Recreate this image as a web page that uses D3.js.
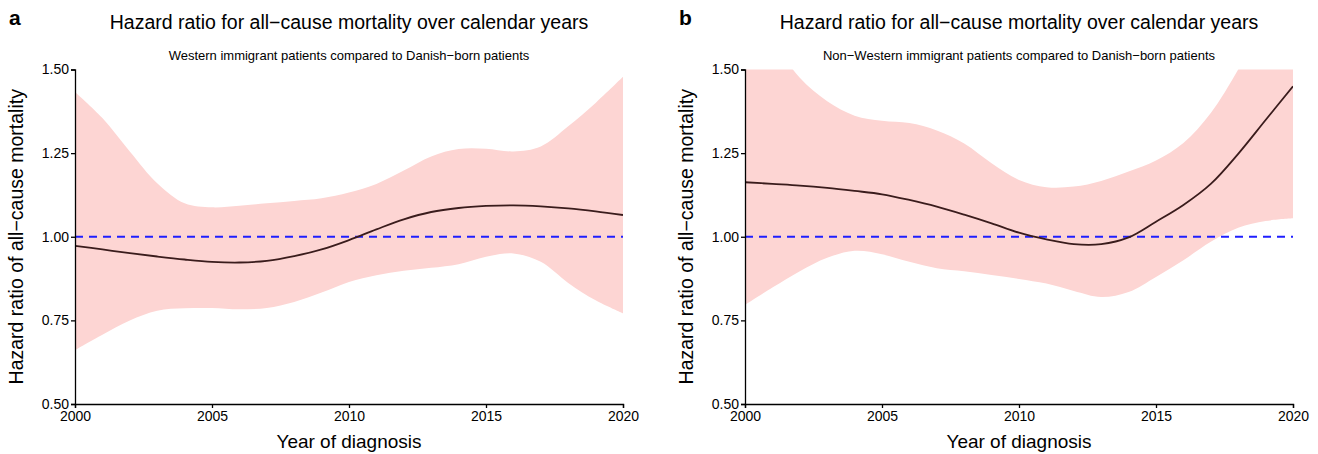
<!DOCTYPE html>
<html>
<head>
<meta charset="utf-8">
<script src="https://cdn.jsdelivr.net/npm/d3@7"></script>
<style>
  body { margin: 0; background: #fff; }
  svg { font-family: "Liberation Sans", Arial, sans-serif; }
  .axis path, .axis line { stroke: #000; stroke-width: 1.3; }
  .axis text { font-size: 14px; fill: #000; }
</style>
</head>
<body>
<div class="canvas"></div>
<script>
// data, one value per calendar year
const years = d3.range(2000, 2021);

// panel a: western immigrants
const hrWestern    = [0.973, 0.962, 0.951, 0.941, 0.932, 0.925, 0.923, 0.928, 0.942, 0.962, 0.99,
                      1.022, 1.052, 1.074, 1.086, 1.092, 1.094, 1.091, 1.085, 1.076, 1.065];
const lowerWestern = [0.661, 0.707, 0.75, 0.779, 0.786, 0.787, 0.783, 0.787, 0.805, 0.833, 0.865,
                      0.885, 0.898, 0.907, 0.918, 0.94, 0.95, 0.925, 0.862, 0.81, 0.771];
const upperWestern = [1.433, 1.355, 1.255, 1.16, 1.10, 1.088, 1.093, 1.10, 1.107, 1.115, 1.132,
                      1.158, 1.198, 1.24, 1.262, 1.263, 1.255, 1.27, 1.33, 1.40, 1.478];

// panel b: non-western immigrants
const hrNonWestern    = [1.163, 1.158, 1.153, 1.146, 1.137, 1.127, 1.11, 1.09, 1.066, 1.04, 1.012,
                         0.992, 0.978, 0.978, 0.998, 1.045, 1.095, 1.158, 1.248, 1.349, 1.45];
const lowerNonWestern = [0.796, 0.848, 0.897, 0.937, 0.958, 0.948, 0.925, 0.906, 0.897, 0.886, 0.874,
                         0.86, 0.838, 0.82, 0.835, 0.88, 0.93, 0.985, 1.027, 1.047, 1.055];
const upperNonWestern = [1.72, 1.59, 1.475, 1.405, 1.362, 1.347, 1.34, 1.318, 1.279, 1.22, 1.17,
                         1.148, 1.15, 1.167, 1.195, 1.228, 1.28, 1.37, 1.5, 1.65, 1.8];

const xTicks = [2000, 2005, 2010, 2015, 2020];
const yTicks = [0.5, 0.75, 1.0, 1.25, 1.5];

const panels = [
  { letter: 'a', sub: 'Western immigrant patients compared to Danish\u2212born patients',
    hr: hrWestern, lo: lowerWestern, hi: upperWestern, left: 75 },
  { letter: 'b', sub: 'Non\u2212Western immigrant patients compared to Danish\u2212born patients',
    hr: hrNonWestern, lo: lowerNonWestern, hi: upperNonWestern, left: 745 }
];

const dims = { width: 548, top: 69.5, bottom: 404 };

const svg = d3.select('.canvas')
  .append('svg')
  .attr('width', 1318)
  .attr('height', 454);

panels.forEach((p, i) => {
  const x = d3.scaleLinear().domain([2000, 2020]).range([p.left, p.left + dims.width]);
  const y = d3.scaleLinear().domain([0.5, 1.5]).range([dims.bottom, dims.top]);
  const g = svg.append('g');

  // clip so the band stays inside the plot
  const clipId = 'clip' + i;
  svg.append('clipPath').attr('id', clipId)
    .append('rect')
    .attr('x', x(2000)).attr('y', y(1.5))
    .attr('width', dims.width).attr('height', y(0.5) - y(1.5));

  const rows = years.map((yr, j) => ({ yr, hr: p.hr[j], lo: p.lo[j], hi: p.hi[j] }));

  const area = d3.area()
    .x(d => x(d.yr))
    .y0(d => y(d.lo))
    .y1(d => y(d.hi))
    .curve(d3.curveCatmullRom.alpha(0.5));

  const line = d3.line()
    .x(d => x(d.yr))
    .y(d => y(d.hr))
    .curve(d3.curveCatmullRom.alpha(0.5));

  g.append('path')
    .datum(rows)
    .attr('clip-path', `url(#${clipId})`)
    .attr('fill', '#fdd5d3')
    .attr('d', area);

  // reference line at HR = 1
  g.append('line')
    .attr('x1', x(2000)).attr('x2', x(2020))
    .attr('y1', y(1)).attr('y2', y(1))
    .attr('stroke', '#1f1fff')
    .attr('stroke-width', 1.8)
    .attr('stroke-dasharray', '8,6');

  g.append('path')
    .datum(rows)
    .attr('clip-path', `url(#${clipId})`)
    .attr('fill', 'none')
    .attr('stroke', '#3a1c1c')
    .attr('stroke-width', 1.8)
    .attr('d', line);

  // axes
  g.append('g')
    .attr('class', 'axis')
    .attr('transform', `translate(0, ${dims.bottom})`)
    .call(d3.axisBottom(x).tickValues(xTicks).tickFormat(d3.format('d')).tickSizeInner(4).tickSizeOuter(4).tickPadding(3));

  g.append('g')
    .attr('class', 'axis')
    .attr('transform', `translate(${p.left}, 0)`)
    .call(d3.axisLeft(y).tickValues(yTicks).tickFormat(d3.format('.2f')).tickSizeInner(4).tickSizeOuter(4).tickPadding(2));

  const cx = p.left + dims.width / 2;

  g.append('text')
    .attr('x', p.left - 66).attr('y', 25)
    .attr('font-size', 21).attr('font-weight', 'bold')
    .text(p.letter);

  g.append('text')
    .attr('x', cx).attr('y', 29)
    .attr('text-anchor', 'middle')
    .attr('font-size', 19.5)
    .text('Hazard ratio for all\u2212cause mortality over calendar years');

  g.append('text')
    .attr('x', cx).attr('y', 59.5)
    .attr('text-anchor', 'middle')
    .attr('font-size', 13)
    .text(p.sub);

  g.append('text')
    .attr('x', cx).attr('y', 448)
    .attr('text-anchor', 'middle')
    .attr('font-size', 19)
    .text('Year of diagnosis');

  g.append('text')
    .attr('transform', `translate(${p.left - 52}, ${(dims.top + dims.bottom) / 2}) rotate(-90)`)
    .attr('text-anchor', 'middle')
    .attr('font-size', 19.5)
    .text('Hazard ratio of all\u2212cause mortality');
});
</script>
</body>
</html>
